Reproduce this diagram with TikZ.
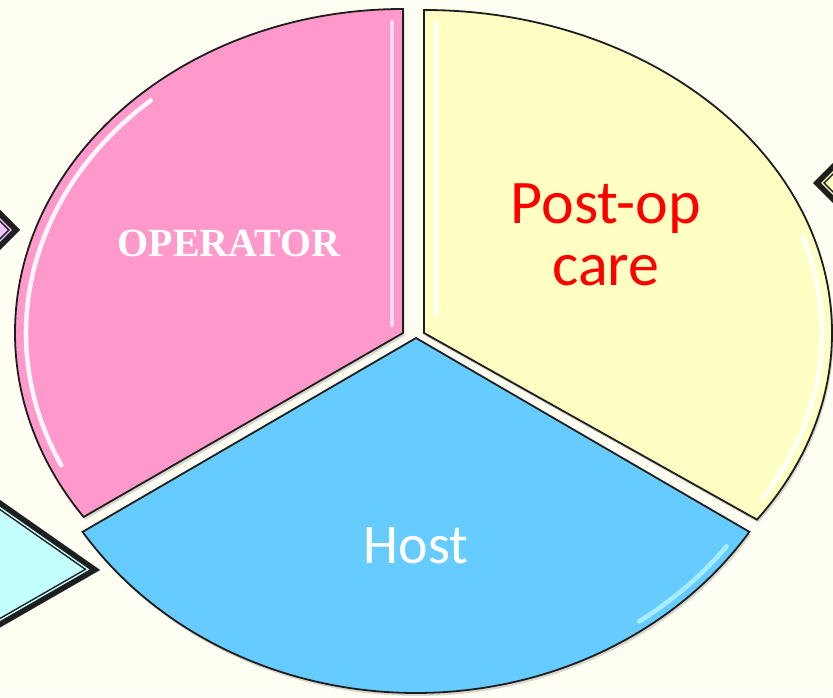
\documentclass[tikz,border=0pt]{standalone}
\usepackage{fontspec}
\setmainfont{Liberation Serif}
\newfontfamily\labelsans{Carlito}
\usetikzlibrary{shadows}

\definecolor{paper}{RGB}{254,254,242}
\definecolor{pinkslice}{RGB}{255,153,204}
\definecolor{yellowslice}{RGB}{255,255,196}
\definecolor{blueslice}{RGB}{102,204,255}
\definecolor{edgeink}{RGB}{30,30,30}
\definecolor{violetfill}{RGB}{240,196,255}
\definecolor{cyanfill}{RGB}{196,255,255}
\definecolor{lemonfill}{RGB}{255,255,192}
\definecolor{bluegloss}{RGB}{175,240,255}

% a tile with a thick dark rim, a thin light gap and a thin dark inner line
\newcommand\framedtile[2]{%
  \begin{scope}
    \clip #2;
    \fill[#1] #2;
    \draw[edgeink, line width=17pt, line join=miter] #2;
    \draw[#1, line width=14pt, line join=miter] #2;
    \draw[edgeink, line width=11pt, line join=miter] #2;
  \end{scope}}

\begin{document}
\begin{tikzpicture}[x=1pt, y=1pt,
  slice/.style={draw=edgeink, line width=1.8pt, line join=miter,
    drop shadow={shadow xshift=1.5pt, shadow yshift=-3pt, opacity=0.3}},
  gloss/.style={white, line width=4.5pt, line cap=round, opacity=0.9}]

  \useasboundingbox (0,0) rectangle (833,697);
  \clip (0,0) rectangle (833,697);
  \fill[paper] (0,0) rectangle (833,697);

  % tiles peeking in at the edges
  \framedtile{violetfill}{(20,467) -- (-60,547) -- (-60,387) -- cycle}
  \framedtile{cyanfill}{(100,127) -- (-200,337) -- (-300,-100) -- (-74,27) -- cycle}
  \framedtile{lemonfill}{(813,514) -- (893,594) -- (893,434) -- cycle}

  % the three slices
  \draw[slice, fill=pinkslice]
    (403,364) -- (403,688)
    arc[start angle=90, end angle=214.6, x radius=388pt, y radius=324pt] -- cycle;
  \draw[slice, fill=yellowslice]
    (424,364) -- (424,687)
    arc[start angle=90, end angle=-35.3, x radius=408pt, y radius=323pt] -- cycle;
  \draw[slice, fill=blueslice]
    (416,359) -- +(213.1:398pt and 355pt)
    arc[start angle=213.1, end angle=326.9, x radius=398pt, y radius=355pt] -- cycle;

  % glossy highlights
  \draw[gloss] (403,364) ++(132:377pt and 313pt)
    arc[start angle=132, end angle=205, x radius=377pt, y radius=313pt];
  \draw[gloss, white!70!pinkslice] (392,675) -- (392,372);
  \draw[gloss] (436,675) -- (436,382);
  \draw[gloss] (424,364) ++(18:398pt and 313pt)
    arc[start angle=18, end angle=-32, x radius=398pt, y radius=313pt];
  \draw[gloss, bluegloss] (416,359) ++(-37:389pt and 346pt)
    arc[start angle=-37, end angle=-55, x radius=389pt, y radius=346pt];

  % labels
  \node[font=\bfseries\fontsize{40}{40}\selectfont, text=white] (operator)
    at (229,454) {OPERATOR};
  \node[font=\labelsans\fontsize{62}{62}\selectfont, text=red, align=center] (postop)
    at (606,462) {Post-op\\care};
  \node[font=\labelsans\fontsize{56}{56}\selectfont, text=white, anchor=base] (host)
    at (416,134) {Host};
\end{tikzpicture}
\end{document}
